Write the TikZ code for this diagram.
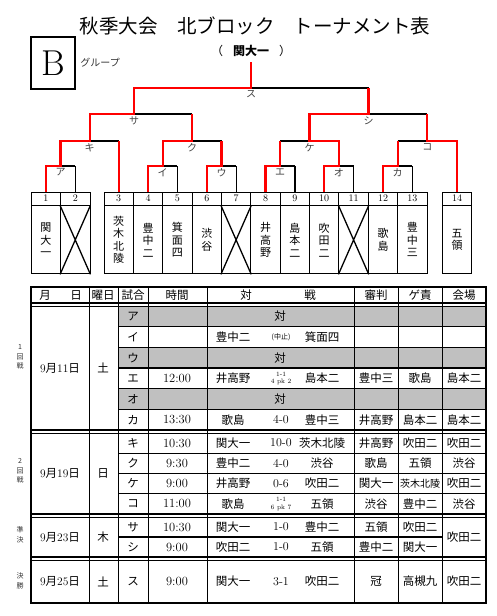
\documentclass[tikz,border=0pt]{standalone}
\usepackage{fontspec}
\newfontfamily\jp{Noto Sans CJK JP}
\usetikzlibrary{positioning,calc}
\definecolor{CellGray}{HTML}{C0C0C0}
\definecolor{WinRed}{HTML}{FF0000}
\newcommand\pk[2]{{\fontsize{6.5}{7.5}\selectfont\begin{tabular}{@{}c@{}}1-1\\#1 pk #2\end{tabular}}}
\newcommand\cxl{{\jp\fontsize{7}{7}\selectfont (中止)}}
\newcommand\sm[1]{{\fontsize{10}{11}\selectfont #1}}
\newcommand\md[1]{\textrm{9}月\textrm{#1}日}

\begin{document}
\begin{tikzpicture}[x=1pt,y=-1pt,
    win/.style={WinRed,line width=2.2pt},
    lose/.style={black,line width=1.2pt},
    numcell/.style={draw,line width=0.9pt,minimum width=29.4,minimum height=13,
                    inner sep=0pt,font=\fontsize{10}{10}\selectfont},
    namecell/.style={draw,line width=0.9pt,minimum width=29.4,minimum height=68,
                     inner sep=0pt,align=center,font=\jp\fontsize{11}{12.5}\selectfont},
    mlabel/.style={below,inner sep=2.5pt,text=black!75,font=\jp\fontsize{10}{10}\selectfont},
    jcell/.style={inner sep=0pt,font=\jp\fontsize{11.5}{13}\selectfont},
    tmcell/.style={inner sep=0pt,font=\fontsize{12.5}{14}\selectfont},
    sccell/.style={inner sep=0pt,align=center,font=\fontsize{12}{13}\selectfont},
    rlabel/.style={inner sep=0pt,align=center,text=black!80,font=\jp\fontsize{7}{9.5}\selectfont},
    rowline/.style={line width=1.1pt},
    colline/.style={line width=1pt}]
\useasboundingbox[fill=white] (0,0) rectangle (496,616);

\node[font=\jp\fontsize{19.5}{22}\selectfont] (title) at (255,26) {秋季大会　北ブロック　トーナメント表};
\node[draw,line width=1.8pt,minimum width=44,minimum height=52,inner sep=0pt,
      font=\fontsize{36}{36}\selectfont] (grp) at (53,63) {B};
\node[right=1pt of grp,text=black!80,font=\jp\fontsize{10}{10}\selectfont] (grpname) {グループ};
\node[inner ysep=5pt,font=\jp\fontsize{12}{14}\selectfont] (champ) at (251,51)
     {（\hspace{10pt}\textbf{関大一}\hspace{10pt}）};

\foreach \k/\x/\nm in {1/45.75/{関\\大\\一},2/75.25/{},3/118.7/{茨\\木\\北\\陵},
    4/148.0/{豊\\中\\二},5/177.4/{箕\\面\\四},6/206.8/{渋\\谷},7/236.1/{},
    8/265.5/{井\\高\\野},9/294.9/{島\\本\\二},10/324.2/{吹\\田\\二},11/353.6/{},
    12/383.0/{歌\\島},13/412.3/{豊\\中\\三},14/457/{五\\領}}{
  \node[numcell] (n\k) at (\x,198.5) {\k};
  \node[namecell,below=0pt of n\k] (t\k) {\nm};
}
\foreach \k in {2,7,11}
  \draw[line width=1.3pt] (t\k.north west) -- (t\k.south east) (t\k.north east) -- (t\k.south west);

\coordinate (mA) at (60.5,166);  \coordinate (mI) at (162.7,166);
\coordinate (mU) at (221.5,166); \coordinate (mE) at (280.2,166);
\coordinate (mO) at (338.9,166); \coordinate (mKa) at (397.7,166);
\coordinate (mKi) at (89.6,141); \coordinate (mKu) at (192.1,141);
\coordinate (mKe) at (309.5,141); \coordinate (mKo) at (427.3,141);
\coordinate (mSa) at (134,114);  \coordinate (mShi) at (368.5,114);
\coordinate (mSu) at (251,88);

\foreach \p/\q/\m in {n1/n2/mA,n4/n5/mI,n6/n7/mU,n8/n9/mE,n10/n11/mO,n12/n13/mKa,
    mA/n3/mKi,mI/mU/mKu,mE/mO/mKe,mKa/n14/mKo,mKi/mKu/mSa,mKe/mKo/mShi,mSa/mShi/mSu}
  \draw[lose] (\p |- \m) -- (\q |- \m);
\foreach \k/\m in {2/mA,5/mI,7/mU,9/mE,11/mO,13/mKa}
  \draw[lose] (n\k.north) -- (n\k |- \m);

\draw[win] (n1.north) |- (mA) -- (mA |- mKi) -- (mKi) -- (mKi |- mSa) -- (mSa)
           -- (mSa |- mSu) -- (mSu) -- (champ.south);
\draw[win] (n3.north) -- (n3 |- mKi);
\draw[win] (n4.north) |- (mI) -- (mI |- mKu) -- (mKu) -- (mKu |- mSa);
\draw[win] (n6.north) |- (mU) -- (mU |- mKu);
\draw[win] (n8.north) |- (mE) -- (mE |- mKe);
\draw[win] (n10.north) |- (mO) -- (mO |- mKe) -- (mKe) -- (mKe |- mShi) -- (mShi) -- (mShi |- mSu);
\draw[win] (n12.north) |- (mKa) -- (mKa |- mKo);
\draw[win] (n14.north) |- (mKo) -- (mKo |- mShi);

\foreach \m/\t in {mA/ア,mI/イ,mU/ウ,mE/エ,mO/オ,mKa/カ,mKi/キ,mKu/ク,mKe/ケ,mKo/コ,
    mSa/サ,mShi/シ,mSu/ス}
  \node[mlabel] (l\m) at (\m) {\t};

\fill[CellGray] (118,306) rectangle (486,326.67) (118,347.33) rectangle (486,368)
                (118,388.67) rectangle (486,409.33);
\foreach \y in {326.67,347.33,368,388.67,409.33,453.25,473.5,493.75}
  \draw[rowline] (118,\y) -- (486,\y);
\draw[rowline] (118,537) -- (442,537);
\foreach \y in {303,430,514,557}{
  \draw[line width=1.1pt] (31,\y) -- (486,\y);
  \draw[line width=0.7pt] (31,\y+3) -- (486,\y+3);
}
\foreach \x in {89,118,148,207,354,398,442}
  \draw[colline] (\x,287) -- (\x,603);
\draw[line width=1.8pt] (31,287) rectangle (486,603);

\foreach \x/\h [count=\i] in {45/月,76/日,103/曜日,133/試合,177/時間,246/対,310/戦,
    376/審判,420/ゲ責,464/会場}
  \node[jcell] (h\i) at (\x,295.5) {\h};
\foreach \y/\dd/\w [count=\i] in {368/11/土,473.5/19/日,537/23/木,581.5/25/土}{
  \node[jcell] (d\i) at (60,\y) {\md{\dd}};
  \node[jcell] (w\i) at (103,\y) {\w};
}
\foreach \y/\t [count=\i] in {357/{1\\回\\戦},471/{2\\回\\戦},535/{準\\決},581/{決\\勝}}
  \node[rlabel] (r\i) at (20,\y) {\t};

\foreach \y/\t [count=\i] in {316.3/ア,357.7/ウ,399/オ}{
  \node[jcell] (g\i) at (133,\y) {\t};
  \node[jcell] (gv\i) at (280,\y) {対};
}
\foreach \rY/\rM/\rT/\rA/\rS/\rB/\rR/\rD/\rV [count=\i] in {
    337/イ/{}/豊中二/\cxl/箕面四/{}/{}/{},
    378.3/エ/12:00/井高野/\pk{4}{2}/島本二/豊中三/歌島/島本二,
    419.7/カ/13:30/歌島/4-0/豊中三/井高野/島本二/島本二,
    443.1/キ/10:30/関大一/10-0/茨木北陵/井高野/吹田二/吹田二,
    463.4/ク/9:30/豊中二/4-0/渋谷/歌島/五領/渋谷,
    483.6/ケ/9:00/井高野/0-6/吹田二/関大一/\sm{茨木北陵}/吹田二,
    503.9/コ/11:00/歌島/\pk{6}{7}/五領/渋谷/豊中二/渋谷,
    527/サ/10:30/関大一/1-0/豊中二/五領/吹田二/{},
    547/シ/9:00/吹田二/1-0/五領/豊中二/関大一/{},
    581.5/ス/9:00/関大一/3-1/吹田二/冠/高槻九/吹田二}{
  \node[jcell] (m\i) at (133,\rY) {\rM};
  \node[tmcell] (tm\i) at (177,\rY) {\rT};
  \node[jcell] (a\i) at (233,\rY) {\rA};
  \node[sccell] (s\i) at (281,\rY) {\rS};
  \node[jcell] (b\i) at (322,\rY) {\rB};
  \node[jcell] (ref\i) at (376,\rY) {\rR};
  \node[jcell] (du\i) at (420,\rY) {\rD};
  \node[jcell] (ve\i) at (464,\rY) {\rV};
}
\node[jcell] (veSemi) at (464,537) {吹田二};
\end{tikzpicture}
\end{document}
